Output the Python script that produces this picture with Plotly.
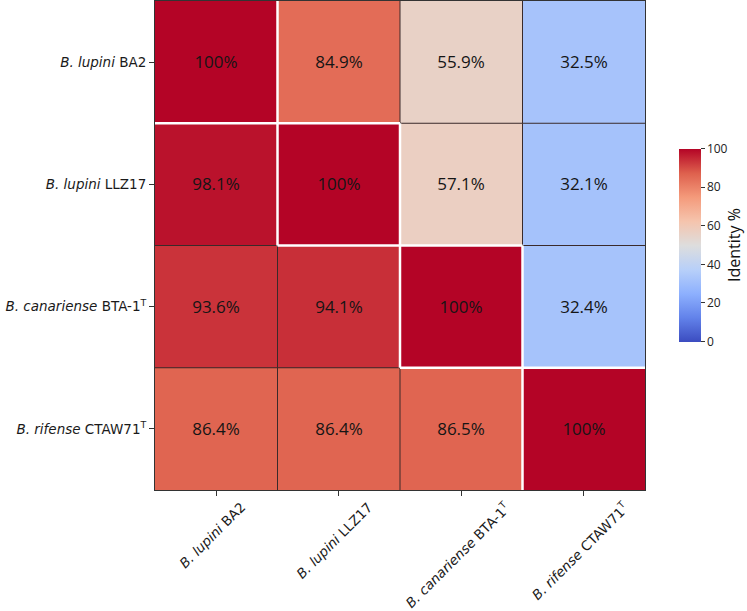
import plotly.graph_objects as go

labels = [
    "<i>B. lupini</i> BA2",
    "<i>B. lupini</i> LLZ17",
    "<i>B. canariense</i> BTA-1<sup>T</sup>",
    "<i>B. rifense</i> CTAW71<sup>T</sup>",
]
row_bla2 = [100, 84.9, 55.9, 32.5]
row_llz17 = [98.1, 100, 57.1, 32.1]
row_bta1 = [93.6, 94.1, 100, 32.4]
row_ctaw71 = [86.4, 86.4, 86.5, 100]
z = [row_bla2, row_llz17, row_bta1, row_ctaw71]

coolwarm = [
    [0.0, "rgb(59,76,192)"],
    [0.125, "rgb(98,130,234)"],
    [0.25, "rgb(141,176,254)"],
    [0.375, "rgb(184,208,249)"],
    [0.5, "rgb(221,221,221)"],
    [0.625, "rgb(245,196,173)"],
    [0.75, "rgb(244,154,123)"],
    [0.875, "rgb(222,96,77)"],
    [1.0, "rgb(180,4,38)"],
]

text = [[(f"{v:g}%") for v in row] for row in z]
n = len(labels)
idx = list(range(n))

fig = go.Figure(go.Heatmap(
    z=z, x=idx, y=idx, text=text, texttemplate="%{text}",
    textfont=dict(family="Open Sans", size=17, color="#151515"),
    colorscale=coolwarm, zmin=0, zmax=100, xgap=0, ygap=0,
    colorbar=dict(
        x=1.049, xanchor="left", y=0.501, yanchor="middle", len=0.394,
        thickness=22, outlinewidth=0, ypad=0,
        tickvals=[0, 20, 40, 60, 80, 100], ticks="outside", ticklen=4,
        tickcolor="#333", tickfont=dict(family="Open Sans", size=12, color="#222"),
        title=dict(text="Identity %", side="right",
                   font=dict(family="Open Sans", size=16, color="#111")),
    ),
))

# cell edges: white around diagonal cells, dark elsewhere
dark, white = [], []
for r in range(n):
    for k in range(n - 1):
        seg = dict(type="line", x0=k + 0.5, x1=k + 0.5, y0=r - 0.5, y1=r + 0.5)
        (white if r in (k, k + 1) else dark).append(seg)
for c in range(n):
    for k in range(n - 1):
        seg = dict(type="line", y0=k + 0.5, y1=k + 0.5, x0=c - 0.5, x1=c + 0.5)
        (white if c in (k, k + 1) else dark).append(seg)
shapes = []
for s in dark:
    shapes.append({**s, "xref": "x", "yref": "y", "line": dict(color="#3a2a2a", width=1)})
for s in white:
    shapes.append({**s, "xref": "x", "yref": "y", "line": dict(color="white", width=2.5)})

annotations = []
for i, lab in enumerate(labels):
    annotations.append(dict(
        x=i, xref="x", y=0, yref="paper", yanchor="top", xanchor="center",
        xshift=-4, yshift=-6, text=lab, textangle=-45, showarrow=False,
        font=dict(family="DejaVu Sans", size=13.5, color="#1a1a1a"),
    ))

fig.update_layout(
    width=747, height=611,
    margin=dict(l=155, r=102, t=1, b=121, autoexpand=False),
    paper_bgcolor="white", plot_bgcolor="white",
    shapes=shapes, annotations=annotations,
    xaxis=dict(tickvals=idx, showticklabels=False, ticks="outside", ticklen=5,
               tickcolor="#333", showline=True, linecolor="#333", linewidth=1,
               mirror=True, showgrid=False, zeroline=False, range=[-0.5, n - 0.5]),
    yaxis=dict(tickvals=idx, ticktext=labels, ticks="outside", ticklen=5,
               tickcolor="#333", showline=True, linecolor="#333", linewidth=1,
               mirror=True, showgrid=False, zeroline=False,
               range=[n - 0.5, -0.5],
               tickfont=dict(family="DejaVu Sans", size=13.5, color="#1a1a1a")),
)

fig.write_html("out.html")
